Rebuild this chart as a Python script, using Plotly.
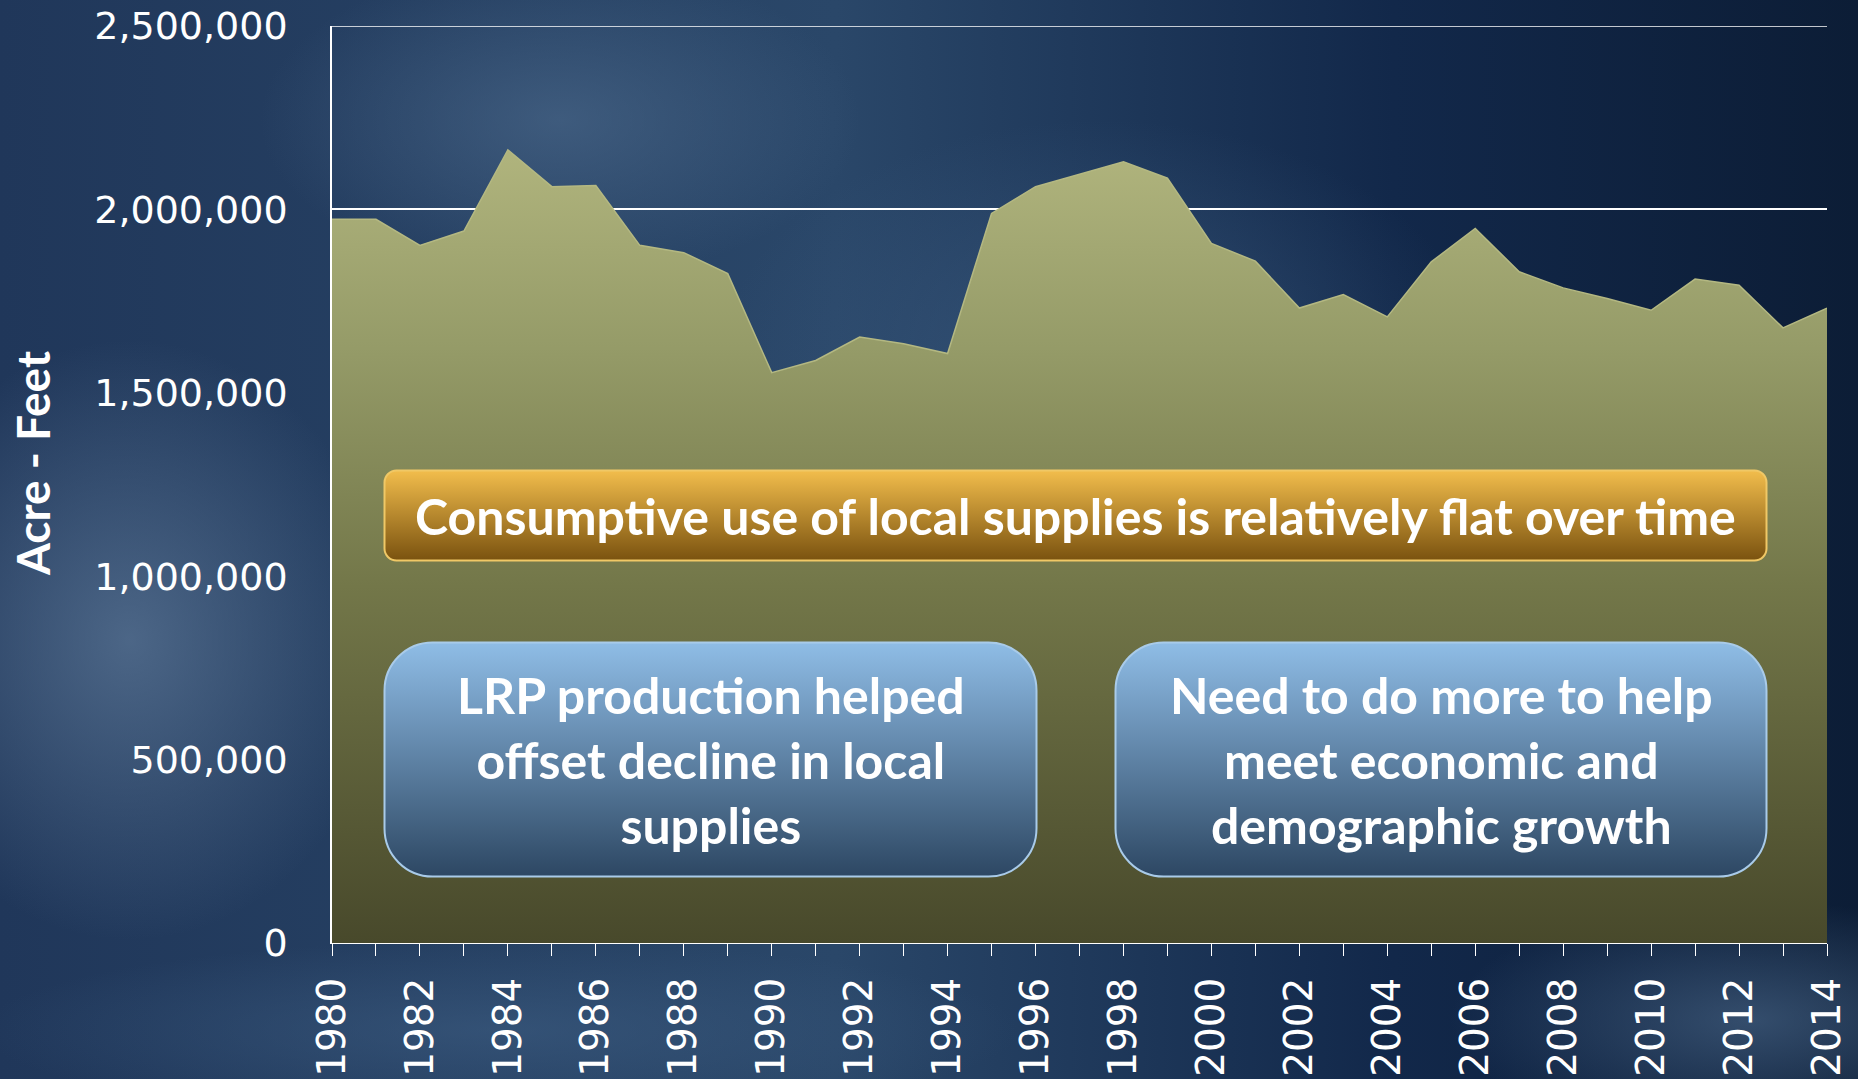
import base64
import plotly.graph_objects as go

years = list(range(1980, 2015))
acre_feet = [1973000, 1973000, 1902000, 1941000, 2162000, 2062000, 2065000, 1902000,
             1882000, 1825000, 1555000, 1588000, 1652000, 1634000, 1607000, 1989000,
             2062000, 2096000, 2130000, 2085000, 1907000, 1859000, 1731000, 1768000,
             1707000, 1857000, 1948000, 1830000, 1786000, 1757000, 1725000, 1810000,
             1793000, 1677000, 1731000]
y_ticks = [0, 500000, 1000000, 1500000, 2000000, 2500000]
x_labels = [str(y) if y % 2 == 0 else "" for y in years]

headline = "Consumptive use of local supplies is relatively flat over time"
left_note = "LRP production helped<br>offset decline in local<br>supplies"
right_note = "Need to do more to help<br>meet economic and<br>demographic growth"

W, H = 1858, 1079
L, R, T, B = 332, 31, 26, 136
PW, PH = W - L - R, H - T - B


def svg_uri(svg):
    return "data:image/svg+xml;base64," + base64.b64encode(svg.encode()).decode()


def px(x):
    return (x - L) / PW


def py(y):
    return (H - B - y) / PH


# backdrop: dark blue with soft lighter clouds
bg_svg = f"""<svg xmlns='http://www.w3.org/2000/svg' width='{W}' height='{H}' preserveAspectRatio='none'>
<defs>
<linearGradient id='g' x1='0' y1='0' x2='1' y2='0'>
<stop offset='0' stop-color='#20375a'/><stop offset='0.45' stop-color='#2a4769'/>
<stop offset='0.75' stop-color='#12284a'/><stop offset='1' stop-color='#0c1d36'/></linearGradient>
<radialGradient id='c1'><stop offset='0' stop-color='#5a7595' stop-opacity='0.75'/><stop offset='1' stop-color='#5a7595' stop-opacity='0'/></radialGradient>
<radialGradient id='c2'><stop offset='0' stop-color='#4e6c8e' stop-opacity='0.6'/><stop offset='1' stop-color='#4e6c8e' stop-opacity='0'/></radialGradient>
<radialGradient id='c3'><stop offset='0' stop-color='#3d5d82' stop-opacity='0.6'/><stop offset='1' stop-color='#3d5d82' stop-opacity='0'/></radialGradient>
</defs>
<rect width='{W}' height='{H}' fill='url(#g)'/>
<ellipse cx='130' cy='640' rx='260' ry='300' fill='url(#c1)'/>
<ellipse cx='560' cy='120' rx='300' ry='160' fill='url(#c2)'/>
<ellipse cx='1100' cy='360' rx='380' ry='240' fill='url(#c3)'/>
<ellipse cx='1750' cy='1020' rx='300' ry='120' fill='url(#c2)'/>
<ellipse cx='500' cy='1030' rx='520' ry='90' fill='url(#c3)'/>
</svg>"""


def box_svg(w, h, rx, top, bottom, stroke):
    return f"""<svg xmlns='http://www.w3.org/2000/svg' width='{w}' height='{h}' preserveAspectRatio='none'>
<defs><linearGradient id='b' x1='0' y1='0' x2='0' y2='1'>
<stop offset='0' stop-color='{top}'/><stop offset='1' stop-color='{bottom}'/></linearGradient></defs>
<rect x='1.5' y='1.5' width='{w-3}' height='{h-3}' rx='{rx}' ry='{rx}' fill='url(#b)' stroke='{stroke}' stroke-width='2'/>
</svg>"""


boxes = [
    # x0, y0, x1, y1 (pixels), radius, top colour, bottom colour, stroke
    (383, 469, 1768, 562, 12, "#f2bd4c", "#7a520f", "#f0c866"),
    (383, 641, 1038, 878, 48, "#8fbde6", "#2d4763", "#a9cbe9"),
    (1114, 641, 1768, 878, 48, "#8fbde6", "#2d4763", "#a9cbe9"),
]

images = [dict(source=svg_uri(bg_svg), xref="paper", yref="paper",
               x=px(0), y=py(0), sizex=W / PW, sizey=H / PH,
               sizing="stretch", layer="below")]
for x0, y0, x1, y1, rx, c0, c1, st in boxes:
    images.append(dict(source=svg_uri(box_svg(x1 - x0, y1 - y0, rx, c0, c1, st)),
                       xref="paper", yref="paper", x=px(x0), y=py(y0),
                       sizex=(x1 - x0) / PW, sizey=(y1 - y0) / PH,
                       sizing="stretch", layer="above"))

fig = go.Figure()
fig.add_trace(go.Scatter(
    x=years, y=acre_feet, mode="lines", fill="tozeroy",
    line=dict(color="#b4b882", width=1.5),
    fillgradient=dict(type="vertical", start=0, stop=2162000,
                      colorscale=[[0, "#48492b"], [0.45, "#737749"],
                                  [0.75, "#959b68"], [1, "#b0b47d"]]),
    hoverinfo="skip", showlegend=False))

txt = "white"
box_font = dict(family="Lato", size=50, color=txt)
annotations = [
    dict(text=f"<b>{headline}</b>", xref="paper", yref="paper",
         x=px((383 + 1768) / 2), y=py(516), showarrow=False,
         xanchor="center", yanchor="middle", font=box_font),
    dict(text=f"<b>{left_note}</b>", xref="paper", yref="paper",
         x=px((383 + 1038) / 2), y=py(760), showarrow=False, align="center",
         xanchor="center", yanchor="middle", font=box_font),
    dict(text=f"<b>{right_note}</b>", xref="paper", yref="paper",
         x=px((1114 + 1768) / 2), y=py(760), showarrow=False, align="center",
         xanchor="center", yanchor="middle", font=box_font),
    dict(text="<b>Acre - Feet</b>", xref="paper", yref="paper",
         x=px(33), y=py(464), showarrow=False, textangle=-90,
         xanchor="center", yanchor="middle",
         font=dict(family="Lato", size=46, color=txt)),
]

# top gridline at the end of the value range
shapes = [dict(type="line", xref="paper", yref="y", x0=0, x1=1,
               y0=y_ticks[-1], y1=y_ticks[-1], line=dict(color="white", width=1.5),
               layer="below")]

fig.update_layout(
    width=W, height=H,
    margin=dict(l=L, r=R, t=T, b=B, autoexpand=False),
    paper_bgcolor="#1c3252", plot_bgcolor="rgba(0,0,0,0)",
    images=images, annotations=annotations, shapes=shapes,
    xaxis=dict(range=[1980, 2014], tickvals=years, ticktext=x_labels,
               tickangle=-90, ticks="outside", ticklen=12, tickcolor="white",
               showgrid=False, zeroline=False, showline=True, linecolor="white",
               automargin=False, ticklabelstandoff=6,
               tickfont=dict(family="DejaVu Sans", size=39, color="white")),
    yaxis=dict(range=[0, 2500000], tickvals=y_ticks, tickformat=",d",
               showgrid=True, gridcolor="white", gridwidth=1.5, zeroline=False,
               showline=True, linecolor="white", linewidth=1.5, ticks="",
               automargin=False, ticklabelstandoff=35,
               tickfont=dict(family="DejaVu Sans", size=38, color="white")),
)

fig.write_html("out.html", config={"displayModeBar": False},
               post_script="document.body.style.margin='0';")
